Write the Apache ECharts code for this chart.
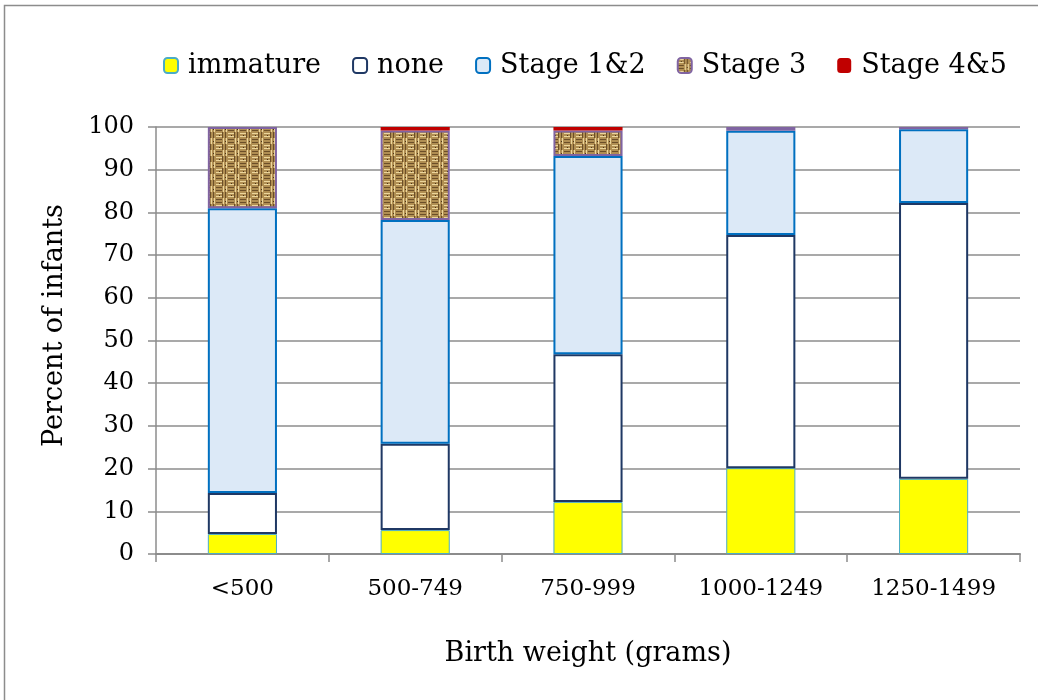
<!DOCTYPE html>
<html>
<head>
<meta charset="utf-8">
<script src="https://cdn.jsdelivr.net/npm/echarts@6/dist/echarts.min.js"></script>
<style>
  html, body { margin: 0; padding: 0; background: #fff; }
  #chart { width: 1038px; height: 700px; }
</style>
</head>
<body>
<div id="chart"></div>
<script>
const categories = ['<500', '500-749', '750-999', '1000-1249', '1250-1499'];
const immature = [4.7, 5.6, 12.2, 20.1, 17.6];
const none = [9.6, 20.2, 34.6, 54.6, 64.6];
const stage12 = [66.7, 52.4, 46.4, 24.4, 17.3];
const stage3 = [19.0, 21.0, 6.0, 0.9, 0.5];
const stage45 = [0, 0.8, 0.8, 0, 0];
const yTicks = [0, 10, 20, 30, 40, 50, 60, 70, 80, 90, 100];

const FONT = 'DejaVu Serif';

// burlap-like texture for Stage 3
function burlap() {
  const c = document.createElement('canvas');
  c.width = 12; c.height = 12;
  const g = c.getContext('2d');
  g.fillStyle = '#b08e52';
  g.fillRect(0, 0, 12, 12);
  g.fillStyle = '#ecd69c';
  g.fillRect(0, 1, 6, 1); g.fillRect(0, 4, 6, 1);
  g.fillRect(7, 6, 1, 6); g.fillRect(10, 6, 1, 6);
  g.fillStyle = '#6b4e28';
  g.fillRect(6, 0, 1, 6); g.fillRect(9, 0, 1, 6);
  g.fillRect(0, 7, 6, 1); g.fillRect(0, 10, 6, 1);
  g.fillStyle = '#4a3418';
  g.fillRect(3, 3, 1, 1); g.fillRect(9, 9, 1, 1);
  return c;
}

const chart = echarts.init(document.getElementById('chart'));

function bar(name, data, color, border, bw) {
  return {
    name, type: 'bar', stack: 'total', data,
    barWidth: '40%',
    itemStyle: { color, borderColor: border, borderWidth: bw },
    emphasis: { disabled: true }
  };
}

chart.setOption({
  animation: false,
  textStyle: { fontFamily: FONT },
  graphic: [{
    type: 'rect',
    shape: { x: 4.5, y: 5.5, width: 1100, height: 800 },
    style: { fill: 'none', stroke: '#8c8c8c', lineWidth: 1.5 },
    silent: true
  }],
  legend: {
    top: 47,
    left: 158,
    itemWidth: 14,
    itemHeight: 15,
    itemGap: 31,
    textStyle: { fontFamily: FONT, fontSize: 27, color: '#000', padding: [0, 0, 0, 5] },
    data: ['immature', 'none', 'Stage 1&2', 'Stage 3', 'Stage 4&5']
  },
  grid: { left: 156, right: 18, top: 127, bottom: 146 },
  xAxis: {
    type: 'category',
    data: categories,
    name: 'Birth weight (grams)',
    nameLocation: 'middle',
    nameGap: 86,
    nameTextStyle: { fontFamily: FONT, fontSize: 27, color: '#000' },
    axisLine: { lineStyle: { color: '#8c8c8c', width: 2 } },
    axisTick: { show: true, length: 8, lineStyle: { color: '#8c8c8c', width: 1.5 } },
    axisLabel: { fontFamily: FONT, fontSize: 23, color: '#000', margin: 24 }
  },
  yAxis: {
    type: 'value',
    min: 0, max: 100, interval: 10,
    name: 'Percent of infants',
    nameLocation: 'middle',
    nameGap: 88,
    nameTextStyle: { fontFamily: FONT, fontSize: 27, color: '#000', padding: [0, 0, 0, 30] },
    axisLine: { show: true, lineStyle: { color: '#8c8c8c', width: 1.5 } },
    axisTick: { show: true, length: 8, lineStyle: { color: '#8c8c8c', width: 1.5 } },
    axisLabel: {
      fontFamily: FONT, fontSize: 24, color: '#000', margin: 22,
      formatter: v => yTicks.includes(v) ? String(v) : ''
    },
    splitLine: { lineStyle: { color: '#8c8c8c', width: 1.5 } }
  },
  series: [
    bar('immature', immature, '#ffff00', '#4bacc6', 1),
    bar('none', none, '#ffffff', '#1f3864', 2),
    bar('Stage 1&2', stage12, '#dce9f7', '#0070c0', 2),
    bar('Stage 3', stage3, { image: burlap(), repeat: 'repeat' }, '#8064a2', 2),
    bar('Stage 4&5', stage45, '#c00000', '#c00000', 0)
  ]
});
</script>
</body>
</html>
